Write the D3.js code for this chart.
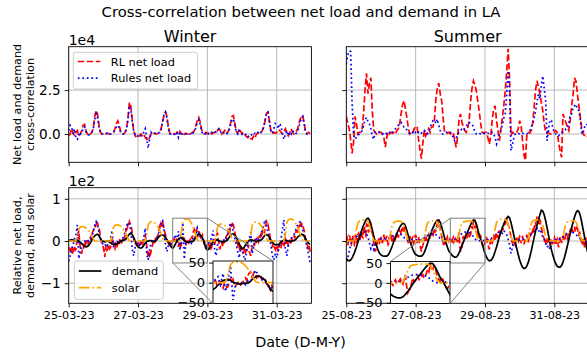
<!DOCTYPE html>
<html>
<head>
<meta charset="utf-8">
<script src="https://cdn.jsdelivr.net/npm/d3@7"></script>
<style>
  body { margin: 0; background: white; }
  svg text { font-family: "DejaVu Sans", sans-serif; }
</style>
</head>
<body>
<div id="chart"></div>
<script>
// ---- data: 7 days per season (hourly, RL net load half-hourly) ----
const winterStart = "2023-03-25";
const summerStart = "2023-08-25";
const winterTicks = ["2023-03-25", "2023-03-27", "2023-03-29", "2023-03-31"];
const summerTicks = ["2023-08-25", "2023-08-27", "2023-08-29", "2023-08-31"];
const corrTicks = [0, 2.5];          // x 1e4
const relTicks = [-100, 0, 100];     // shown as x 1e2
const insetTicks = [-50, 0, 50];

// cross-correlation, in units of 1e4 (hourly)
const winterRLCorr = [
  -0.1, 0.0, 0.3, 0.1, -0.1, 0.1, 0.2, -0.1, 0.0, 0.2, 0.5, 0.55, 0.2, 0.0, -0.1, 0.0, 0.1, 0.3, 1.0, 1.35, 1.1, 0.5, 0.1, 0.0,
  0.05, 0.0, 0.0, 0.05, 0.0, 0.0, 0.05, 0.1, 0.3, 0.6, 0.75, 0.5, 0.1, 0.0, 0.0, 0.1, 0.3, 0.9, 1.8, 1.6, 0.8, 0.2, -0.1, -0.2,
  -0.15, -0.1, 0.0, -0.1, 0.0, -0.2, -0.3, -0.4, -0.2, 0.0, 0.1, 0.05, 0.0, 0.0, 0.05, 0.1, 0.3, 0.7, 1.1, 1.25, 1.0, 0.4, 0.05, 0.0,
  0.05, 0.0, 0.0, 0.1, -0.05, 0.15, 0.0, -0.1, 0.0, 0.05, 0.0, 0.0, 0.1, 0.05, 0.1, 0.2, 0.45, 0.8, 0.95, 0.7, 0.25, 0.05, 0.0, 0.1,
  0.05, 0.0, 0.1, 0.0, 0.05, 0.1, 0.05, 0.2, 0.3, 0.2, 0.0, 0.1, 0.2, 0.0, 0.1, 0.25, 0.6, 1.0, 1.05, 0.6, 0.15, 0.05, 0.3, 0.15,
  0.0, 0.1, -0.05, -0.15, -0.2, -0.1, -0.25, -0.3, -0.1, -0.2, 0.0, 0.05, 0.1, 0.05, 0.2, 0.4, 0.8, 1.2, 1.25, 0.7, 0.15, 0.0, 0.1, 0.05,
  0.1, 0.05, 0.2, 0.1, 0.0, 0.15, 0.3, 0.1, -0.1, 0.05, 0.3, 0.1, 0.0, 0.1, 0.2, 0.45, 0.8, 1.0, 1.05, 0.6, 0.1, 0.0, 0.1, 0.05
];
const winterRulesCorr = [
  0.2, 0.5, 0.4, 0.0, 0.3, -0.25, -0.3, 0.1, 0.0, 0.05, 0.3, 0.4, 0.1, 0.0, -0.05, 0.0, 0.1, 0.3, 0.8, 1.15, 0.9, 0.4, 0.05, 0.0,
  0.0, 0.0, 0.05, 0.0, 0.05, 0.0, 0.05, 0.1, 0.2, 0.4, 0.5, 0.35, 0.1, 0.0, 0.0, 0.1, 0.25, 0.8, 1.6, 1.4, 0.7, 0.15, -0.05, -0.15,
  -0.1, 0.0, -0.1, 0.0, 0.1, 0.3, -0.2, -0.8, -0.3, 0.1, 0.0, 0.0, 0.05, 0.0, 0.05, 0.1, 0.3, 0.7, 1.1, 1.25, 0.9, 0.3, 0.0, 0.0,
  0.05, 0.0, -0.1, 0.05, -0.2, 0.1, 0.0, 0.0, 0.05, 0.0, 0.0, 0.05, 0.0, 0.1, 0.05, 0.15, 0.35, 0.65, 0.8, 0.55, 0.15, 0.0, 0.05, 0.0,
  0.1, 0.0, 0.05, 0.1, 0.05, 0.15, 0.1, 0.2, 0.3, 0.15, 0.0, 0.05, 0.1, 0.0, 0.05, 0.2, 0.5, 0.8, 0.85, 0.5, 0.1, 0.0, 0.2, 0.1,
  0.0, -0.1, -0.05, 0.0, -0.15, -0.1, 0.0, -0.1, 0.0, 0.05, 0.0, 0.1, 0.0, 0.1, 0.2, 0.4, 0.8, 1.2, 1.25, 0.65, 0.15, 0.05, 0.3, 0.6,
  0.55, 0.3, 0.6, 0.45, 0.0, -0.3, 0.0, 0.2, -0.1, 0.1, 0.0, 0.2, 0.05, 0.0, 0.1, 0.3, 0.6, 0.9, 1.0, 0.6, 0.1, 0.0, 0.05, 0.0
];
const summerRLCorr = [
  1.0, 0.6, 0.3, -0.3, -1.1, -0.5, 1.0, 0.6, 0.0, 0.1, 0.1, 0.3, 1.2, 2.6, 3.45, 2.3, 2.9, 3.2, 1.3, 0.2, 0.1, 0.0, 0.15, 0.1,
  0.1, 0.0, -0.2, -0.75, -0.2, 0.1, 0.0, 0.1, 0.05, 0.1, 0.0, 0.2, 0.3, 0.6, 1.2, 1.7, 1.9, 1.4, 0.9, 0.3, 0.0, 0.1, 0.05, 0.3,
  0.4, 0.45, -0.3, -0.9, -1.4, -0.5, 0.2, -0.1, 0.1, 0.3, 0.1, 0.4, 0.4, 0.8, 2.0, 2.6, 2.9, 2.3, 1.9, 0.95, 0.1, 0.1, 0.05, 0.1,
  0.0, 0.1, 0.05, -0.3, -0.76, -0.2, 0.8, 1.14, 0.7, 0.38, 0.2, 0.1, 0.3, 0.76, 1.8, 2.6, 3.03, 2.8, 2.46, 1.9, 1.3, 0.6, 0.1, 0.05,
  0.1, 0.1, -0.2, -0.57, -0.1, 0.8, 1.4, 1.6, 0.76, 0.2, -0.38, 0.3, 0.9, 1.6, 2.46, 3.5, 4.85, 3.2, -0.1, 0.1, 0.05, 0.1, 0.1, 0.3,
  0.76, 0.5, -0.4, -1.2, -1.5, 0.0, 0.1, 0.05, 0.2, 0.6, 1.5, 2.5, 3.03, 2.7, 2.27, 1.8, 1.33, 0.6, 0.1, 0.05, 0.1, 0.0, 0.0, 0.1,
  0.1, 0.2, 0.1, -0.5, -0.95, -1.33, 1.14, 0.9, 0.66, 0.4, 0.2, 0.8, 1.6, 2.27, 3.2, 3.0, 2.27, 1.6, 0.95, 0.3, 0.0, -0.1, -0.2, -0.15
];
const summerRulesCorr = [
  4.0, 4.5, 4.73, 4.7, 1.8, 0.0, -0.3, -0.2, -0.1, 0.0, 0.1, 0.2, 0.5, 0.8, 0.95, 0.7, 0.57, 0.3, -0.1, -0.3, 0.1, 0.1, 0.05, 0.1,
  0.1, 0.0, 0.05, 0.1, 0.0, 0.1, 0.1, 0.0, 0.1, 0.2, 0.3, 0.4, 0.5, 0.6, 0.66, 0.5, 0.4, 0.38, 0.2, 0.1, 0.0, 0.0, 0.1, 0.0,
  0.1, 0.0, 0.1, 0.0, 0.05, 0.1, 0.2, 0.1, 0.0, 0.1, 0.3, 0.6, 0.76, 0.8, 0.6, 0.85, 0.5, 0.2, 0.0, 0.0, 0.05, 0.1, 0.1, 0.05,
  0.1, 0.0, -0.2, -0.38, -0.3, 0.0, 0.1, 0.2, 0.28, 0.2, 0.3, 0.4, 0.6, 0.66, 0.6, 0.57, 0.4, 0.1, 0.0, 0.0, 0.05, 0.0, 0.0, 0.05,
  0.0, 0.0, 0.05, 0.0, 0.0, 0.1, 0.0, -0.2, -0.57, -0.3, 0.0, 0.2, 0.5, 0.9, 1.14, 2.2, 3.6, 2.46, -0.95, -0.6, -0.2, 0.0, 0.0, 0.05,
  0.0, 0.0, 0.05, 0.0, 0.0, 0.0, 0.1, 0.2, 0.4, 0.57, 0.9, 1.3, 1.8, 2.27, 2.0, 2.8, 3.3, 2.6, 1.9, -0.38, 0.3, 0.8, 0.76, 0.3,
  0.1, 0.0, 0.0, -0.1, 0.0, 0.1, 0.1, 0.2, 0.28, 0.3, 0.6, 1.1, 1.14, 1.5, 1.6, 1.7, 1.4, 1.33, 0.8, 0.0, 0.1, 0.4, 0.57, 0.5
];

// relative net load (half-hourly), rules net load, demand and solar (hourly), raw units
const winterRLNet = [
  -22, -15, -28, -20, -18, -30, -25, -14, -12, -22, -20, -5, 5, 15, 25, 0, -15, -25, -30, -18, -20, -12, -8, -15, -2, 4, 5, -6, -3, 4, 8, 2, 12, 20, 25, 30, 38, 32, 45, 40, 42, 35, 30, 22, 10, -2, -5, -12,
  -15, -25, -38, -20, -10, -22, -20, -10, -8, -18, -15, -2, 10, 2, -5, -14, -18, -6, -8, -15, 2, -4, -5, 4, 5, -4, -2, 6, 8, 2, 15, 22, 30, 24, 42, 36, 46, 42, 38, 30, 20, 12, 5, -4, -8, -2, -15, -8,
  -5, -14, -12, -4, -3, -12, -10, -2, 0, 8, 15, 0, -10, -28, -35, -25, -40, -32, -25, -15, -10, -2, 0, -6, 5, 10, 12, 6, 20, 28, 35, 30, 42, 38, 46, 36, 30, 22, 15, 8, 5, -2, -5, 2, -2, -10, -8, -2,
  -4, 2, 5, -5, -3, 4, 2, -8, -14, -2, -5, -12, -10, 2, 10, 0, 8, -4, -10, -2, 0, -8, -6, 0, 2, 8, 12, 5, 18, 24, 27, 15, 20, 26, 23, 12, 15, 20, 18, 8, 10, 14, 5, -4, -2, -10, -18, -8,
  -12, -4, -20, -12, -8, -18, -15, -4, 5, -2, -10, 0, 8, 14, 20, 5, -5, -20, -15, -8, -5, -12, 3, -4, -2, 6, 10, 2, 15, 22, 28, 20, 40, 34, 45, 40, 38, 30, 20, 12, 5, -2, -8, -2, -15, -22, -25, -15,
  -18, -24, -30, -20, -15, -26, -22, -12, -8, -18, -25, -30, -35, -22, -15, -8, -5, -12, 5, -2, -3, 4, 8, -2, 2, 10, 15, 8, 22, 28, 25, 18, 35, 40, 45, 36, 38, 28, 20, 8, -5, 2, -15, -6, -8, -16, -20, -12,
  -10, -18, -25, -12, -5, -14, -15, -4, 0, -8, -10, 0, 5, -4, -5, 2, -12, -4, 0, -6, 8, 0, 3, 10, 12, 6, 18, 24, 25, 20, 30, 36, 38, 32, 44, 38, 40, 30, 25, 14, 5, -2, -5, -14, -20, -12, -25, -18
];
const winterRulesNet = [
  -48, -35, -20, -10, 5, 15, 38, -42, -25, -10, -5, 0, -3, 2, 0, 5, 10, 22, 35, 46, 38, 20, 5, -5,
  -8, -12, -5, -10, 0, 8, 25, -15, -5, 0, -2, 3, 0, 5, 10, 20, 35, 44, 40, 25, -20, -35, -15, -8,
  -5, -10, 0, -5, 10, 30, -30, -45, -20, -5, 0, 3, 0, 8, 15, 30, 45, 48, 25, -10, -25, -10, -5, -8,
  2, 8, 15, -5, 23, -22, 5, 43, -43, -5, 0, -2, 0, -5, 5, 3, 15, 31, 20, 10, 5, 0, -8, -15,
  -10, -5, 0, 10, 25, -20, -35, -10, 0, 3, -2, 5, 0, 8, 15, 30, 42, 38, 20, 5, -10, -25, -40, -15,
  -20, -35, -45, -30, -10, 5, 20, -30, -15, 0, 5, 0, 8, 15, 25, 40, 50, 35, 20, 5, -10, -35, -45, -30,
  -40, -25, -10, 5, 30, 50, -20, -35, -10, 0, 5, 10, 15, 25, 35, 40, 45, 38, 25, 10, 0, -15, -30, -50
];
const winterDemand = [
  0, 2, 3, 2, 0, 1, 2, 0, -3, -6, -10, -13, -14, -13, -10, -5, 2, 8, 12, 15, 16, 12, 5, 0,
  -1, -2, -1, 0, -2, -5, -7, -8, -8, -8, -6, -3, 0, 1, 2, 3, 6, 12, 16, 18, 15, 8, 0, -8,
  -14, -16, -17, -15, -10, -5, -1, 0, 1, 1, 0, -1, 0, 3, 8, 12, 14, 14, 12, 8, 3, -3, -9, -14,
  -17, -13, -6, 0, 5, 7, 8, 6, 1, -1, -3, -3, -2, -1, -1, 3, 10, 14, 17, 15, 10, 5, -6, -18,
  -21, -19, -14, -7, -1, 2, 3, 2, 0, -1, -2, -2, -1, 0, 3, 8, 13, 16, 17, 14, 8, 2, -6, -14,
  -18, -17, -12, -6, -1, 2, 3, 2, 1, 0, -1, 0, 1, 2, 5, 10, 14, 15, 13, 8, 2, -3, -7, -9,
  -8, -9, -6, -2, 0, 2, 2, 1, 0, 0, -1, 0, 1, 3, 7, 11, 14, 16, 15, 11, 5, -1, -5, -8
];
const winterSolar = [
  0, 0, 0, 0, 0, 0, 10, 28, 33, 34, 34, 33, 31, 28, 24, 19, 13, 5, 0, 0, 0, 0, 0, 0,
  0, 0, 0, 0, 0, 0, 12, 32, 37, 38, 38, 37, 35, 31, 27, 21, 14, 6, 0, 0, 0, 0, 0, 0,
  0, 0, 0, 0, 0, 0, 14, 38, 44, 46, 46, 45, 42, 37, 32, 25, 17, 7, 0, 0, 0, 0, 0, 0,
  0, 0, 0, 0, 0, 2, 20, 45, 51, 52, 52, 51, 48, 42, 34, 26, 14, 3, 0, 0, 0, 0, 0, 0,
  0, 0, 0, 0, 0, 0, 12, 33, 39, 40, 40, 39, 37, 33, 28, 22, 15, 6, 0, 0, 0, 0, 0, 0,
  0, 0, 0, 0, 0, 0, 13, 37, 44, 45, 46, 44, 41, 37, 31, 24, 16, 6, 0, 0, 0, 0, 0, 0,
  0, 0, 0, 0, 0, 0, 16, 44, 50, 52, 52, 51, 48, 42, 36, 28, 18, 7, 0, 0, 0, 0, 0, 0
];
const summerRLNet = [
  5, 8, -10, -2, 12, 10, -5, -8, 8, 12, -8, -10, 10, 14, -5, 0, 15, 18, 5, 2, 20, 22, 10, 8, 30, 35, 15, 12, 40, 38, 25, 20, 45, 50, 30, 22, 20, 15, -5, -12, -25, -20, -10, -2, 5, 8, -8, 0,
  10, 0, -5, 5, 15, 2, 0, 6, 12, 0, -8, -4, 8, 12, 18, 2, -5, 3, 10, 12, 5, 10, 20, 14, 8, 18, 25, 22, 15, 28, 30, 22, 20, 35, 32, 18, 10, 0, -5, 6, 12, 2, -3, 5, 8, -6, -2, 10,
  15, 4, -5, 2, 10, -2, -8, -18, -25, -15, -10, -4, 5, 0, 12, 6, 0, 8, 15, 10, 5, 14, 20, 12, 10, 22, 30, 20, 25, 34, 40, 42, 46, 38, 30, 20, 12, 2, -5, -10, 5, -2, -8, 2, 10, 6, 0, 5,
  5, -2, -6, 4, 8, -3, 0, 6, 10, 2, -3, 10, 20, -8, -25, -18, -15, 0, 12, 3, 5, 12, 18, 8, 10, 16, 21, 12, 15, 25, 35, 28, 48, 36, 30, 44, 40, 25, 15, 8, 5, 14, 12, 0, -5, -12, -15, -8,
  -5, 4, 10, -2, -8, -14, -20, -6, 5, -4, -5, 8, 15, 4, 0, 12, 20, 10, 8, 18, 25, 16, 15, 24, 30, 28, 35, 40, 45, 38, 54, 46, 40, 34, 30, 18, 10, 0, -5, 4, 5, -6, -10, 2, 8, -2, -3, 6,
  10, 2, -5, 6, 12, 0, -8, -2, 5, 8, 15, 2, -3, 10, 20, 12, 10, 20, 25, 18, 30, 40, 45, 35, 58, 48, 40, 52, 50, 38, 30, 24, 15, 10, 5, -4, -8, 4, 10, -2, 0, -8, -10, 0, 5, -6, -5, 4,
  8, -4, -10, 2, 5, -8, -15, 0, 10, 2, -5, 6, 12, 4, 0, 10, 15, 8, 5, 14, 20, 18, 25, 20, 30, 26, 20, 28, 34, 22, 25, 32, 30, 20, 15, 22, 10, 2, -5, -10, 5, -6, -15, -2, 8, -10, -20, -12
];
const summerRulesNet = [
  -48, -40, -25, -10, 0, 5, 8, 10, 12, 14, 15, 18, 20, 22, 18, 10, -5, -18, -10, -20, -8, 0, 2, 3,
  5, 3, 6, 5, 4, 6, 8, 10, 12, 14, 15, 16, 15, 17, 15, 12, 8, 5, 3, 2, 0, 2, 3, 2,
  3, 2, 4, 3, 2, 5, 8, 10, 12, 14, 15, 16, 18, 16, 15, 12, 10, 5, 2, 0, -3, 0, 2, 3,
  2, 1, 2, 3, 4, 6, 10, 14, 18, 20, 21, 21, 20, 20, 18, 15, 10, 5, 2, 0, 1, 0, 2, 1,
  0, 2, 3, 2, 5, 8, 12, 15, 18, 20, 22, 20, 18, 25, 20, 15, 5, -10, -29, -15, -5, 0, 2, 3,
  2, 3, 5, 4, 6, 8, 10, 14, 16, 20, 22, 25, 30, 22, 28, 20, 10, 5, -5, -15, -10, -20, -5, 0,
  2, 3, 2, 5, 4, 8, 10, 12, 15, 18, 20, 22, 25, 20, 18, 15, 12, 8, 5, 2, 0, -5, -2, 0
];
const summerDemand = [
  -41, -46, -47, -45, -40, -33, -24, -14, -3, 8, 19, 29, 38, 46, 52, 54, 50, 40, 26, 12, -1, -12, -22, -29,
  -33, -35, -36, -36, -36, -33, -27, -19, -10, 0, 9, 18, 26, 33, 38, 42, 41, 35, 24, 12, 1, -10, -19, -27,
  -32, -34, -36, -36, -36, -33, -27, -18, -8, 3, 13, 23, 31, 39, 45, 49, 50, 45, 34, 21, 8, -4, -15, -24,
  -28, -33, -36, -38, -38, -35, -29, -21, -12, -3, 6, 14, 22, 30, 38, 45, 50, 49, 40, 28, 14, 5, -6, -18,
  -30, -38, -44, -47, -46, -42, -35, -25, -14, -2, 10, 21, 31, 40, 48, 54, 58, 55, 44, 29, 13, -3, -18, -32,
  -45, -55, -62, -65, -64, -59, -50, -38, -24, -8, 8, 23, 37, 50, 62, 73, 71, 62, 48, 31, 13, -5, -21, -34,
  -45, -54, -60, -62, -62, -58, -50, -39, -26, -12, 3, 18, 32, 45, 57, 67, 72, 70, 60, 44, 26, 8, -10, -26
];
const summerSolar = [
  0, 0, 0, 0, 0, 0, 8, 28, 42, 47, 49, 50, 50, 50, 49, 46, 38, 24, 10, 2, 0, 0, 0, 0,
  0, 0, 0, 0, 0, 0, 7, 26, 40, 44, 46, 47, 47, 47, 46, 43, 36, 23, 9, 1, 0, 0, 0, 0,
  0, 0, 0, 0, 0, 0, 8, 27, 41, 45, 47, 48, 48, 48, 47, 44, 37, 24, 10, 2, 0, 0, 0, 0,
  0, 0, 0, 0, 0, 3, 15, 32, 43, 45, 46, 47, 47, 48, 48, 47, 43, 32, 18, 5, 0, 0, 0, 0,
  0, 0, 0, 0, 0, 0, 9, 29, 44, 49, 51, 52, 52, 52, 51, 48, 40, 26, 11, 2, 0, 0, 0, 0,
  0, 0, 0, 0, 0, 0, 8, 28, 42, 47, 49, 50, 50, 50, 49, 46, 38, 25, 10, 2, 0, 0, 0, 0,
  0, 0, 0, 0, 0, 0, 8, 27, 41, 45, 47, 48, 48, 48, 47, 45, 37, 24, 10, 2, 0, 0, 0, 0
];

// ---- layout ----
const width = 587, height = 358;
const lw = 1.7;
const gridColor = "#b0b0b0";
const styles = {
  rl: { color: "red", dash: `${3.7 * lw},${1.6 * lw}` },
  rules: { color: "blue", dash: `${lw},${1.65 * lw}` },
  demand: { color: "black", dash: null },
  solar: { color: "orange", dash: `${6.4 * lw},${1.6 * lw},${lw},${1.6 * lw}` }
};

const parseDay = d3.utcParse("%Y-%m-%d");
const fmtDate = d3.utcFormat("%d-%m-%y");
const weekMinutes = 7 * 24 * 60;

let svg = d3.select("#chart")
  .append("svg")
  .attr("width", width)
  .attr("height", height)
  .style("background", "white");

let clipCount = 0;

function makePanel(box, xDomain, yDomain) {
  const x = d3.scaleUtc().domain(xDomain).range([box.x0, box.x1]);
  const y = d3.scaleLinear().domain(yDomain).range([box.y1, box.y0]);
  const id = "clip" + (clipCount++);
  svg.append("clipPath").attr("id", id).append("rect")
    .attr("x", box.x0).attr("y", box.y0)
    .attr("width", box.x1 - box.x0).attr("height", box.y1 - box.y0);
  const g = svg.append("g");
  const plot = g.append("g").attr("clip-path", `url(#${id})`);
  return { x, y, g, plot, box };
}

function addGrid(p, xTicks, yTicks) {
  p.plot.selectAll(null).data(xTicks).enter().append("line")
    .attr("x1", d => p.x(d)).attr("x2", d => p.x(d))
    .attr("y1", p.box.y0).attr("y2", p.box.y1)
    .attr("stroke", gridColor).attr("stroke-width", 0.9);
  p.plot.selectAll(null).data(yTicks).enter().append("line")
    .attr("x1", p.box.x0).attr("x2", p.box.x1)
    .attr("y1", d => p.y(d)).attr("y2", d => p.y(d))
    .attr("stroke", gridColor).attr("stroke-width", 0.9);
}

// samples are evenly spaced over the week that starts at t0
function addSeries(p, t0, vals, st) {
  const step = weekMinutes / vals.length;
  p.plot.append("path")
    .datum(vals)
    .attr("fill", "none")
    .attr("stroke", st.color)
    .attr("stroke-width", lw)
    .attr("stroke-dasharray", st.dash)
    .attr("d", d3.line().x((d, i) => p.x(d3.utcMinute.offset(t0, i * step))).y(d => p.y(d)));
}

function addAxes(p, xTicks, xFmt, yTicks, yFmt, yFont) {
  p.g.append("rect")
    .attr("x", p.box.x0).attr("y", p.box.y0)
    .attr("width", p.box.x1 - p.box.x0).attr("height", p.box.y1 - p.box.y0)
    .attr("fill", "none").attr("stroke", "black").attr("stroke-width", 0.9);

  let xAxis = p.g.append("g")
    .attr("transform", `translate(0,${p.box.y1})`)
    .call(d3.axisBottom(p.x).tickValues(xTicks).tickSize(4).tickPadding(4).tickFormat(xFmt));
  xAxis.select(".domain").remove();
  xAxis.selectAll("line").attr("stroke-width", 0.9);
  xAxis.selectAll("text").style("font-size", "11.2px").style("font-family", "DejaVu Sans");

  let yAxis = p.g.append("g")
    .attr("transform", `translate(${p.box.x0},0)`)
    .call(d3.axisLeft(p.y).tickValues(yTicks).tickSize(4).tickPadding(4).tickFormat(yFmt));
  yAxis.select(".domain").remove();
  yAxis.selectAll("line").attr("stroke-width", 0.9);
  yAxis.selectAll("text").style("font-size", yFont).style("font-family", "DejaVu Sans");
}

function addLegend(box, rows, items) {
  svg.append("rect")
    .attr("x", box.x).attr("y", box.y).attr("width", box.w).attr("height", box.h)
    .attr("rx", 2.5)
    .attr("fill", "white").attr("fill-opacity", 0.8)
    .attr("stroke", "#cccccc").attr("stroke-width", 1);
  items.forEach((it, i) => {
    svg.append("line")
      .attr("x1", box.x + 4.5).attr("x2", box.x + 27)
      .attr("y1", rows[i]).attr("y2", rows[i])
      .attr("stroke", it.style.color).attr("stroke-width", lw)
      .attr("stroke-dasharray", it.style.dash);
    svg.append("text")
      .attr("x", box.x + 37.5).attr("y", rows[i] + 4.1)
      .style("font-size", "11.3px")
      .text(it.label);
  });
}

const noLabel = () => "";

const seasons = [
  { name: "Winter", start: winterStart, ticks: winterTicks, x0: 68.7, x1: 311.4,
    rlCorr: winterRLCorr, rulesCorr: winterRulesCorr,
    rlNet: winterRLNet, rulesNet: winterRulesNet, demand: winterDemand, solar: winterSolar,
    inset: { x0: 213, x1: 273, y0: 261, y1: 303.5 }, corners: [[1, 1], [0, 0]] },
  { name: "Summer", start: summerStart, ticks: summerTicks, x0: 346.3, x1: 589,
    rlCorr: summerRLCorr, rulesCorr: summerRulesCorr,
    rlNet: summerRLNet, rulesNet: summerRulesNet, demand: summerDemand, solar: summerSolar,
    inset: { x0: 390.5, x1: 450, y0: 261.5, y1: 303.5 }, corners: [[0, 1], [1, 0]] }
];

seasons.forEach((s, c) => {
  const t0 = parseDay(s.start);
  const t1 = d3.utcDay.offset(t0, 7);
  const xTicks = s.ticks.map(parseDay);

  // top: cross-correlation
  let top = makePanel({ x0: s.x0, x1: s.x1, y0: 46.7, y1: 162.3 }, [t0, t1], [-1.61, 4.97]);
  addGrid(top, xTicks, corrTicks);
  addSeries(top, t0, s.rlCorr, styles.rl);
  addSeries(top, t0, s.rulesCorr, styles.rules);
  addAxes(top, xTicks, noLabel, corrTicks, c === 0 ? d3.format(".1f") : noLabel, "13.6px");

  svg.append("text")
    .attr("x", (s.x0 + s.x1) / 2).attr("y", 41.5)
    .attr("text-anchor", "middle")
    .style("font-size", "16px")
    .text(s.name);

  // bottom: relative net load, demand, solar
  let bot = makePanel({ x0: s.x0, x1: s.x1, y0: 187.7, y1: 303.3 }, [t0, t1], [-147.6, 126.3]);
  addGrid(bot, xTicks, relTicks);
  addSeries(bot, t0, s.rlNet, styles.rl);
  addSeries(bot, t0, s.rulesNet, styles.rules);
  addSeries(bot, t0, s.demand, styles.demand);
  addSeries(bot, t0, s.solar, styles.solar);

  // zoomed region (one day) and inset
  const z0 = d3.utcDay.offset(t0, 3), z1 = d3.utcDay.offset(t0, 4);
  const insetDomain = [-52, 54];
  const zr = { x0: bot.x(z0), x1: bot.x(z1), y0: bot.y(insetDomain[1]), y1: bot.y(insetDomain[0]) };
  bot.g.append("rect")
    .attr("x", zr.x0).attr("y", zr.y0)
    .attr("width", zr.x1 - zr.x0).attr("height", zr.y1 - zr.y0)
    .attr("fill", "none").attr("stroke", "#808080").attr("stroke-width", 1);

  addAxes(bot, xTicks, fmtDate, relTicks, c === 0 ? (d => d3.format("d")(d / 100)) : noLabel, "13.6px");

  let ins = makePanel(s.inset, [z0, z1], insetDomain);
  ins.plot.append("rect")
    .attr("x", s.inset.x0).attr("y", s.inset.y0)
    .attr("width", s.inset.x1 - s.inset.x0).attr("height", s.inset.y1 - s.inset.y0)
    .attr("fill", "white");
  addSeries(ins, t0, s.rlNet, styles.rl);
  addSeries(ins, t0, s.rulesNet, styles.rules);
  addSeries(ins, t0, s.demand, styles.demand);
  addSeries(ins, t0, s.solar, styles.solar);
  addAxes(ins, [], noLabel, insetTicks, d3.format("d"), "13px");

  // connector lines between zoom box and inset corners
  s.corners.forEach(([cx, cy]) => {
    svg.append("line")
      .attr("x1", cx ? zr.x1 : zr.x0).attr("y1", cy ? zr.y0 : zr.y1)
      .attr("x2", cx ? s.inset.x1 : s.inset.x0).attr("y2", cy ? s.inset.y0 : s.inset.y1)
      .attr("stroke", "#808080").attr("stroke-width", 1);
  });
});

// offset labels
svg.append("text").attr("x", 68.7).attr("y", 44.5).style("font-size", "14px").text("1e4");
svg.append("text").attr("x", 68.7).attr("y", 186).style("font-size", "14px").text("1e2");

// legends
addLegend({ x: 73.3, y: 52.3, w: 124.4, h: 36.7 }, [61.5, 78.2],
  [{ label: "RL net load", style: styles.rl }, { label: "Rules net load", style: styles.rules }]);
addLegend({ x: 74.3, y: 261, w: 89, h: 38.3 }, [271, 287.6],
  [{ label: "demand", style: styles.demand }, { label: "solar", style: styles.solar }]);

// titles and axis labels
svg.append("text")
  .attr("x", 301).attr("y", 17)
  .attr("text-anchor", "middle")
  .style("font-size", "14.8px")
  .text("Cross-correlation between net load and demand in LA");

svg.append("text")
  .attr("x", 300.5).attr("y", 346.5)
  .attr("text-anchor", "middle")
  .style("font-size", "14.3px")
  .text("Date (D-M-Y)");

function yLabel(lines, cy) {
  lines.forEach((txt, i) => {
    svg.append("text")
      .attr("transform", `translate(${21 + i * 13.3},${cy}) rotate(-90)`)
      .attr("text-anchor", "middle")
      .style("font-size", "11.2px")
      .text(txt);
  });
}
yLabel(["Net load and demand", "cross-correlation"], 104.5);
yLabel(["Relative net load,", "demand, and solar"], 245.5);
</script>
</body>
</html>
